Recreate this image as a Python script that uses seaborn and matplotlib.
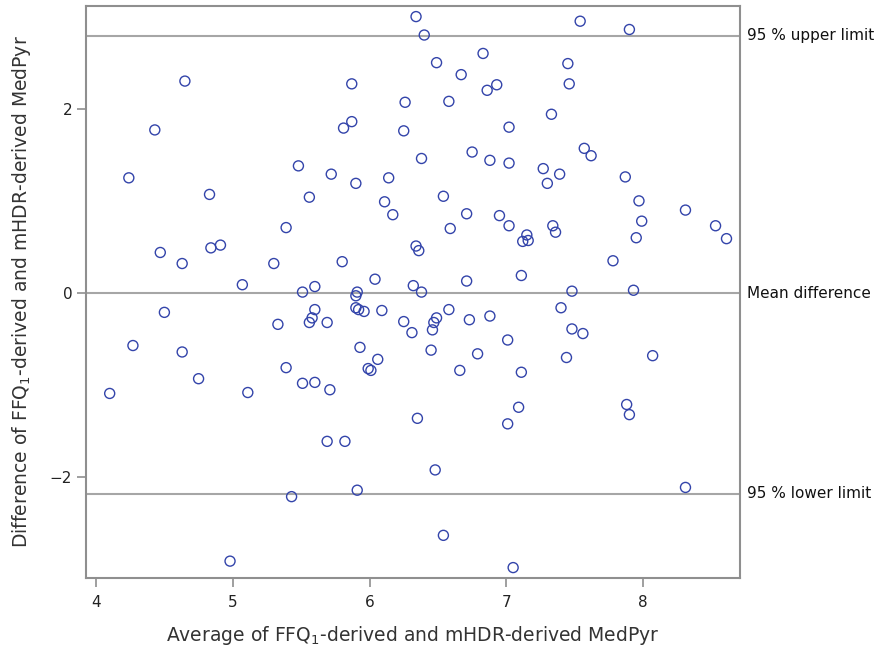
import matplotlib
matplotlib.use("Agg")
import matplotlib.pyplot as plt
import matplotlib.transforms as mtransforms
import pandas as pd
import seaborn as sns

# average of the two methods (x) and their difference (y)
avg = [4.65, 4.43, 4.24, 5.48, 4.83, 5.56, 5.39, 4.47, 4.84, 4.91, 4.63, 5.30, 5.07, 5.51,
       6.34, 6.40, 6.83, 6.49, 6.67, 6.86, 6.93, 5.87, 6.26, 6.58, 5.87, 5.81, 6.25, 7.02,
       6.75, 6.88, 7.02, 6.38, 5.72, 5.90, 6.14, 6.11, 6.17, 6.54, 6.71, 6.59, 6.95, 7.02,
       7.12, 7.15, 7.16, 6.34, 6.36, 5.80, 6.04, 6.71, 7.11, 5.60, 5.91, 5.90, 6.32, 6.38,
       7.54, 7.90, 7.45, 7.46, 7.33, 7.57, 7.62, 7.27, 7.39, 7.30, 7.87, 7.97, 8.31, 7.99,
       8.53, 8.61, 7.95, 7.34, 7.36, 7.78, 7.48, 7.93,
       4.50, 4.27, 4.63, 4.75, 4.10, 5.11, 5.33, 5.39, 5.51, 5.60, 5.56, 5.58, 5.60, 5.69,
       5.43, 4.98,
       5.90, 5.92, 5.96, 6.09, 6.25, 6.31, 6.49, 6.47, 6.46, 6.58, 6.73, 6.88, 7.01, 5.93,
       6.06, 5.99, 6.01, 6.45, 6.79, 6.66, 7.11, 5.71, 6.35, 7.09, 7.01, 5.69, 5.82, 6.48,
       5.91, 6.54, 7.05,
       7.40, 7.48, 7.56, 7.44, 8.07, 7.88, 7.90, 8.31]
diff = [2.30, 1.77, 1.25, 1.38, 1.07, 1.04, 0.71, 0.44, 0.49, 0.52, 0.32, 0.32, 0.09, 0.01,
        3.00, 2.80, 2.60, 2.50, 2.37, 2.20, 2.26, 2.27, 2.07, 2.08, 1.86, 1.79, 1.76, 1.80,
        1.53, 1.44, 1.41, 1.46, 1.29, 1.19, 1.25, 0.99, 0.85, 1.05, 0.86, 0.70, 0.84, 0.73,
        0.56, 0.63, 0.57, 0.51, 0.46, 0.34, 0.15, 0.13, 0.19, 0.07, 0.01, -0.03, 0.08, 0.01,
        2.95, 2.86, 2.49, 2.27, 1.94, 1.57, 1.49, 1.35, 1.29, 1.19, 1.26, 1.00, 0.90, 0.78,
        0.73, 0.59, 0.60, 0.73, 0.66, 0.35, 0.02, 0.03,
        -0.21, -0.57, -0.64, -0.93, -1.09, -1.08, -0.34, -0.81, -0.98, -0.97, -0.32, -0.27,
        -0.18, -0.32, -2.21, -2.91,
        -0.16, -0.18, -0.20, -0.19, -0.31, -0.43, -0.27, -0.32, -0.40, -0.18, -0.29, -0.25,
        -0.51, -0.59, -0.72, -0.82, -0.84, -0.62, -0.66, -0.84, -0.86, -1.05, -1.36, -1.24,
        -1.42, -1.61, -1.61, -1.92, -2.14, -2.63, -2.98,
        -0.16, -0.39, -0.44, -0.70, -0.68, -1.21, -1.32, -2.11]

ref_values = [2.79, 0.0, -2.18]
ref_labels = ["95 % upper limit", "Mean difference", "95 % lower limit"]

df = pd.DataFrame({"avg": avg, "diff": diff})

sns.set_style("white")
plt.rcParams['font.family'] = ['DejaVu Sans']

fig = plt.figure(figsize=(8.76, 6.52), dpi=100)
ax = fig.add_axes([0.0982, 0.1135, 0.7466, 0.8773])

# reference lines first so the markers sit on top
for val in ref_values:
    ax.axhline(val, color="#a6a6a6", lw=1.5, zorder=1)

sns.scatterplot(data=df, x="avg", y="diff", ax=ax, marker="o", s=52,
                facecolors="none", edgecolor="#3344aa", linewidth=1.0, zorder=3)

ax.set_xlim(3.927, 8.709)
ax.set_ylim(-3.093, 3.115)
ax.set_xticks([4, 5, 6, 7, 8])
ax.set_yticks([-2, 0, 2])

for side in ax.spines.values():
    side.set_color("#8f8f8f")
    side.set_linewidth(1.5)

ax.tick_params(axis="both", direction="out", length=6.5, width=1.2, color="#8f8f8f",
               labelsize=11, labelcolor="#222222", left=True, bottom=True)
ax.tick_params(axis="x", pad=6)
ax.tick_params(axis="y", pad=3.5)

ax.set_xlabel("Average of FFQ$_1$-derived and mHDR-derived MedPyr", fontsize=13.5,
              color="#333333", va="center")
ax.set_ylabel("Difference of FFQ$_1$-derived and mHDR-derived MedPyr", fontsize=13.5,
              color="#333333", va="center")
ax.xaxis.set_label_coords(0.5, -0.100)
ax.yaxis.set_label_coords(-0.098, 0.5)

trans = mtransforms.blended_transform_factory(ax.transAxes, ax.transData)
for val, lab in zip(ref_values, ref_labels):
    ax.text(1.01, val, lab, transform=trans, ha="left", va="center", fontsize=11,
            color="#111111")

fig.savefig("out.png", dpi=100)
